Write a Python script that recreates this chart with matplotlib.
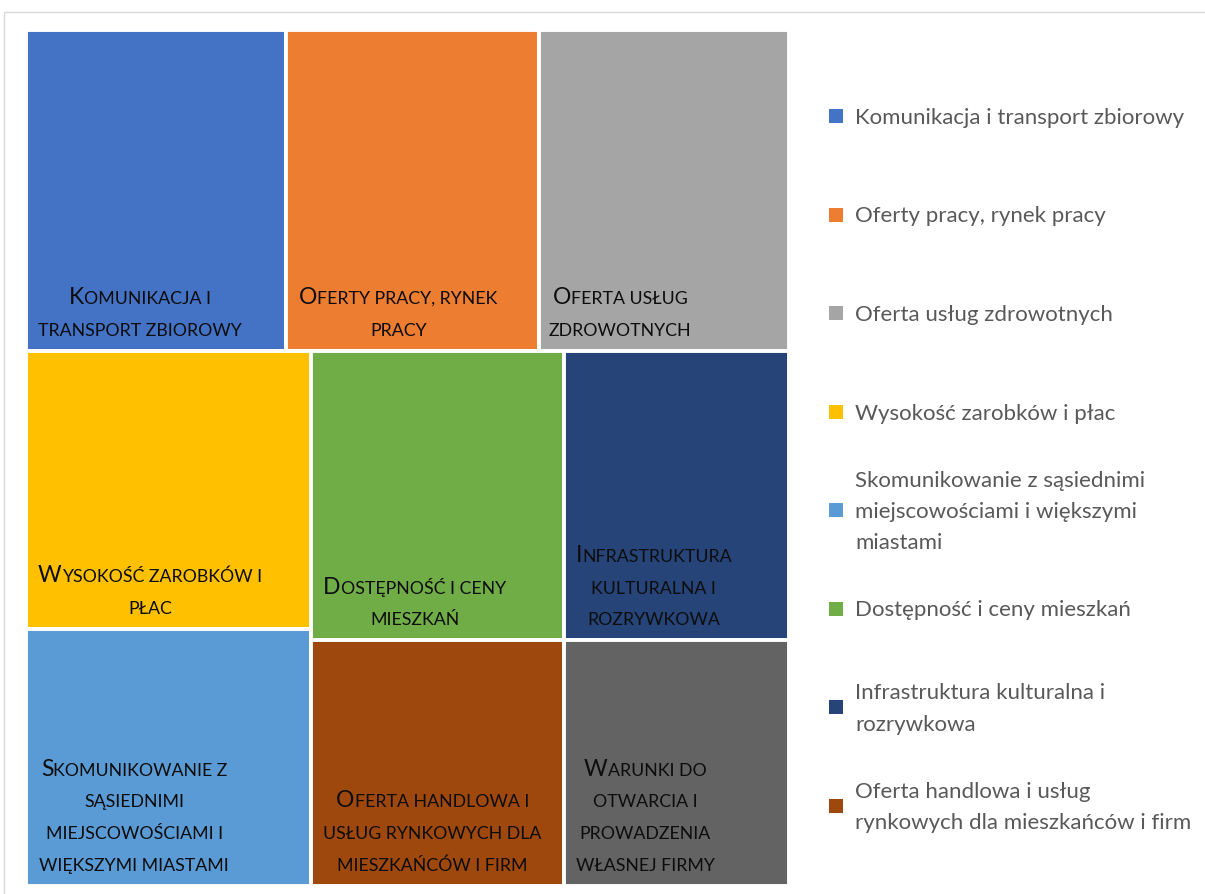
import matplotlib.pyplot as plt
from matplotlib.patches import Rectangle

# data
categories = [
    "Komunikacja i transport zbiorowy",
    "Oferty pracy, rynek pracy",
    "Oferta usług zdrowotnych",
    "Wysokość zarobków i płac",
    "Skomunikowanie z sąsiednimi miejscowościami i większymi miastami",
    "Dostępność i ceny mieszkań",
    "Infrastruktura kulturalna i rozrywkowa",
    "Oferta handlowa i usług rynkowych dla mieszkańców i firm",
    "Warunki do otwarcia i prowadzenia własnej firmy",
]
values = [83, 81, 80, 79, 73, 73, 65, 62, 55]

# wrapped labels as they appear in the tiles and in the legend
box_labels = [
    ["Komunikacja i", "transport zbiorowy"],
    ["Oferty pracy, rynek", "pracy"],
    ["Oferta usług", "zdrowotnych"],
    ["Wysokość zarobków i", "płac"],
    ["Skomunikowanie z", "sąsiednimi", "miejscowościami i", "większymi miastami"],
    ["Dostępność i ceny", "mieszkań"],
    ["Infrastruktura", "kulturalna i", "rozrywkowa"],
    ["Oferta handlowa i", "usług rynkowych dla", "mieszkańców i firm"],
    ["Warunki do", "otwarcia i", "prowadzenia", "własnej firmy"],
]
legend_labels = [
    "Komunikacja i transport zbiorowy",
    "Oferty pracy, rynek pracy",
    "Oferta usług zdrowotnych",
    "Wysokość zarobków i płac",
    "Skomunikowanie z sąsiednimi\nmiejscowościami i większymi\nmiastami",
    "Dostępność i ceny mieszkań",
    "Infrastruktura kulturalna i\nrozrywkowa",
    "Oferta handlowa i usług\nrynkowych dla mieszkańców i firm",
]
colors = ["#4472C4", "#ED7D31", "#A5A5A5", "#FFC000", "#5B9BD5",
          "#70AD47", "#264478", "#9E480E", "#636363"]

# where each text block sits horizontally inside its tile (fraction of width)
label_xfrac = [0.44, 0.445, 0.325, 0.435, 0.38, 0.41, 0.40, 0.48, 0.36]

FONT = "Lato"
BIG, SMALL = 16.5, 12.8
TEXT_COL = "#0d0d0d"

# -----------------------------
# treemap layout (strip / column / two rows)
# -----------------------------
def layout(vals, x0, y0, W, H):
    total = sum(vals)
    rects = []
    # first strip: items 0-2 across full width
    s = sum(vals[0:3])
    h1 = H * s / total
    x = x0
    for v in vals[0:3]:
        w = W * v / s
        rects.append((x, y0, w, h1))
        x += w
    # remaining region
    y1 = y0 + h1
    H1 = H - h1
    rem = sum(vals[3:])
    s = sum(vals[3:5])
    w2 = W * s / rem
    y = y1
    for v in vals[3:5]:
        h = H1 * v / s
        rects.append((x0, y, w2, h))
        y += h
    # last block: two rows of two
    x2 = x0 + w2
    W2 = W - w2
    rem = sum(vals[5:])
    y = y1
    for pair in (vals[5:7], vals[7:9]):
        s = sum(pair)
        h = H1 * s / rem
        x = x2
        for v in pair:
            w = W2 * v / s
            rects.append((x, y, w, h))
            x += w
        y += h
    return rects


fig = plt.figure(figsize=(12.05, 8.94), dpi=100)
ax = fig.add_axes([0, 0, 1, 1])
ax.set_xlim(0, 1205)
ax.set_ylim(894, 0)
ax.axis("off")

# chart frame (cut by the image edge)
ax.add_patch(Rectangle((4, 12), 1400, 1000, facecolor="none",
                       edgecolor="#d9d9d9", linewidth=1.0))

renderer = fig.canvas.get_renderer()
_bar_w = {}


def text_width(s, size):
    # add a bar so trailing spaces count
    if size not in _bar_w:
        t = ax.text(0, 0, "|", fontsize=size, family=FONT)
        _bar_w[size] = t.get_window_extent(renderer).width
        t.remove()
    t = ax.text(0, 0, s + "|", fontsize=size, family=FONT)
    w = t.get_window_extent(renderer).width - _bar_w[size]
    t.remove()
    return w


def smallcaps_line(xc, yb, line):
    runs = []
    for ch in line:
        big = ch.isupper()
        if runs and runs[-1][0] == big:
            runs[-1][1] += ch
        else:
            runs.append([big, ch])
    sizes = [BIG if b else SMALL for b, _ in runs]
    widths = [text_width(s.upper(), fs) for (b, s), fs in zip(runs, sizes)]
    x = xc - sum(widths) / 2
    for (b, s), fs, w in zip(runs, sizes, widths):
        ax.text(x, yb, s.upper(), fontsize=fs, family=FONT, color=TEXT_COL,
                ha="left", va="baseline")
        x += w


rects = layout(values, 26, 30, 763, 856)
for (x, y, w, h), c, lines, fx in zip(rects, colors, box_labels, label_xfrac):
    ax.add_patch(Rectangle((x, y), w, h, facecolor=c, edgecolor="white",
                           linewidth=2.8))
    xc = x + fx * w
    base = y + h - 15
    n = len(lines)
    for i, line in enumerate(lines):
        smallcaps_line(xc, base - (n - 1 - i) * 31.8, line)

# -----------------------------
# legend
# -----------------------------
for i, lab in enumerate(legend_labels):
    yc = 116 + i * 98.5
    ax.add_patch(Rectangle((829, yc - 7), 14, 14, facecolor=colors[i],
                           edgecolor="none"))
    ax.text(855, yc + 2, lab, fontsize=16, family=FONT, color="#595959",
            ha="left", va="center", linespacing=1.7)

fig.savefig("out.png", dpi=100)
